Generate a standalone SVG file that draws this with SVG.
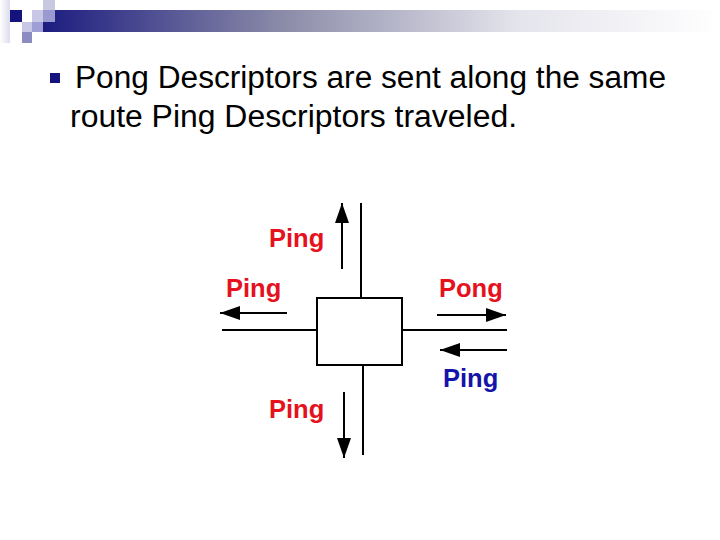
<svg xmlns="http://www.w3.org/2000/svg" width="720" height="540" viewBox="0 0 720 540">
  <defs>
    <linearGradient id="bar" x1="0" y1="0" x2="1" y2="0">
      <stop offset="0" stop-color="#1c1c80"/>
      <stop offset="0.35" stop-color="#8a8aa8"/>
      <stop offset="0.7" stop-color="#e4e4ec"/>
      <stop offset="1" stop-color="#ffffff"/>
    </linearGradient>
    <linearGradient id="edge" x1="0" y1="0" x2="1" y2="0">
      <stop offset="0" stop-color="#ffffff"/>
      <stop offset="1" stop-color="#dcdcee"/>
    </linearGradient>
    <marker id="ah" viewBox="0 0 20 14" refX="20" refY="7" markerWidth="20" markerHeight="14" markerUnits="userSpaceOnUse" orient="auto">
      <path d="M0,0 L20,7 L0,14 Z" fill="#000"/>
    </marker>
    <style>
      .body { font-family: "Liberation Sans", Arial, sans-serif; font-size: 31px; fill: #000; }
      .lbl { font-family: "Liberation Sans", Arial, sans-serif; font-size: 25.5px; font-weight: bold; }
      .red { fill: #e5121e; }
      .blue { fill: #1414a8; }
      .line { stroke: #000; stroke-width: 2; fill: none; }
      .arr { stroke: #000; stroke-width: 2; fill: none; marker-end: url(#ah); }
    </style>
  </defs>

  <g id="header">
    <rect x="0" y="0" width="10" height="43" fill="url(#edge)"/>
    <rect x="43" y="10" width="677" height="22" fill="url(#bar)"/>
    <rect x="10" y="10" width="12" height="12" fill="#14147c"/>
    <rect x="32" y="10" width="11" height="12" fill="#c8c8e6"/>
    <rect x="43" y="0" width="12" height="10" fill="#c8c8e0"/>
    <rect x="43" y="10" width="12" height="12" fill="#9a9ad0"/>
    <rect x="22" y="22" width="10" height="10" fill="#c8c8e6"/>
    <rect x="32" y="22" width="11" height="10" fill="#9f9fd5"/>
    <rect x="22" y="32" width="10" height="11" fill="#8c8cc0"/>
  </g>

  <g id="bullet-text">
    <rect x="50" y="73" width="10" height="10" fill="#14147c"/>
    <text class="body" x="75" y="88" textLength="591" lengthAdjust="spacingAndGlyphs">Pong Descriptors are sent along the same</text>
    <text class="body" x="70" y="127" textLength="447" lengthAdjust="spacingAndGlyphs">route Ping Descriptors traveled.</text>
  </g>

  <g id="node">
    <rect x="317" y="298" width="85" height="67" fill="#fff" stroke="#000" stroke-width="2"/>
  </g>

  <g id="connectors">
    <line class="line" x1="361" y1="203" x2="361" y2="298"/>
    <line class="line" x1="363" y1="365" x2="363" y2="455"/>
    <line class="line" x1="222" y1="330" x2="317" y2="330"/>
    <line class="line" x1="402" y1="330" x2="507" y2="330"/>
    <line class="arr" x1="342" y1="269" x2="342" y2="203"/>
    <line class="arr" x1="287" y1="313" x2="220" y2="313"/>
    <line class="arr" x1="437" y1="315" x2="506" y2="315"/>
    <line class="arr" x1="507" y1="350" x2="440" y2="350"/>
    <line class="arr" x1="344" y1="392" x2="344" y2="458"/>
  </g>

  <g id="labels">
    <text class="lbl red" x="269" y="247">Ping</text>
    <text class="lbl red" x="226" y="297">Ping</text>
    <text class="lbl red" x="439" y="297">Pong</text>
    <text class="lbl blue" x="443" y="387">Ping</text>
    <text class="lbl red" x="269" y="418">Ping</text>
  </g>
</svg>
